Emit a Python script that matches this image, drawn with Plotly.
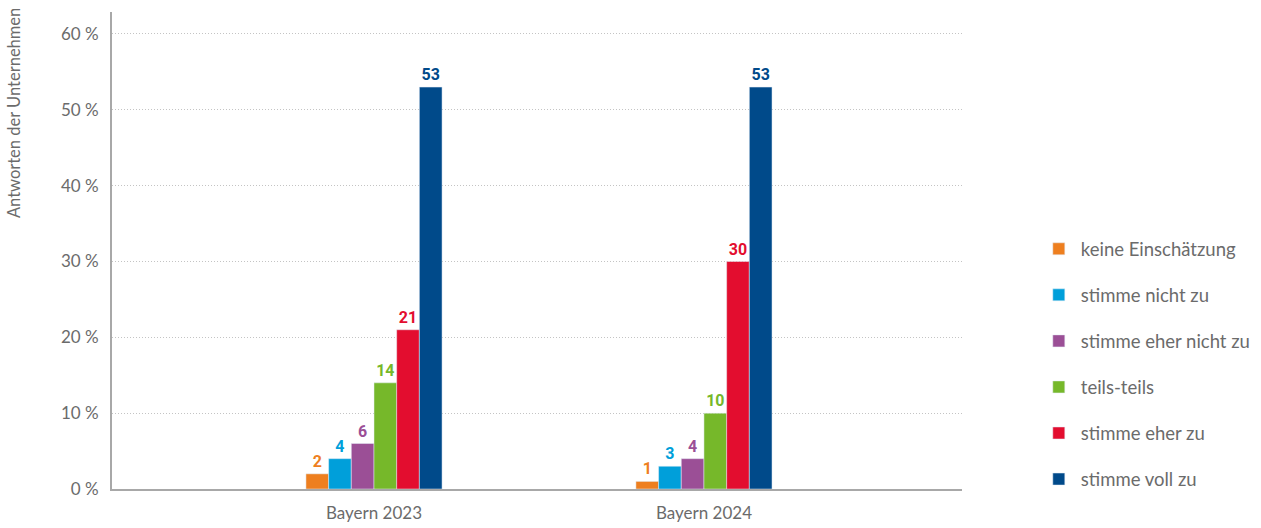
import plotly.graph_objects as go

categories = ["Bayern 2023", "Bayern 2024"]
series_names = ["keine Einschätzung", "stimme nicht zu", "stimme eher nicht zu",
                "teils-teils", "stimme eher zu", "stimme voll zu"]
keine = [2, 1]
nicht = [4, 3]
eher_nicht = [6, 4]
teils = [14, 10]
eher_zu = [21, 30]
voll_zu = [53, 53]
values = [keine, nicht, eher_nicht, teils, eher_zu, voll_zu]
colors = ["#EE7F1F", "#009FDA", "#9B4F96", "#76B82A", "#E30D2F", "#004A8A"]
tick_vals = [0, 10, 20, 30, 40, 50, 60]
tick_text = ["0 %", "10 %", "20 %", "30 %", "40 %", "50 %", "60 %"]

fig = go.Figure()
for name, vals, col in zip(series_names, values, colors):
    fig.add_trace(go.Bar(
        x=categories, y=vals, name=name, marker_color=col,
        text=vals, textposition="outside", cliponaxis=False,
        textfont=dict(color=col, size=16, family="Roboto", weight="bold"),
        legendgroup=name,
    ))

fig.update_layout(
    width=1261, height=528,
    margin=dict(l=112, r=299, t=12, b=39, autoexpand=False),
    paper_bgcolor="white", plot_bgcolor="white",
    barmode="group", bargap=0.5875, bargroupgap=0,
    font=dict(family="Lato", color="#6b6b6b", size=17),
    showlegend=True,
    legend=dict(x=1.088, xanchor="left", y=0.2615, yanchor="middle",
                font=dict(size=18.5, color="#6b6b6b"), tracegroupgap=19,
                itemwidth=34),
    annotations=[dict(text="Antworten der Unternehmen", textangle=-90,
                      xref="paper", yref="paper", x=-0.1155, y=1.012,
                      xanchor="center", yanchor="top", showarrow=False,
                      font=dict(size=16.5, color="#6b6b6b"))],
)
fig.update_yaxes(range=[0, 62.9], tickvals=tick_vals, ticktext=tick_text,
                 showgrid=True, gridcolor="#c4c4c4", griddash="1px,2px", gridwidth=1,
                 showline=True, linecolor="#a8a8a8", linewidth=2,
                 ticks="", ticklabelstandoff=8, zeroline=False, automargin=False)
fig.update_xaxes(range=[-0.794, 1.782], showline=True, linecolor="#a8a8a8",
                 linewidth=2, ticks="", ticklabelstandoff=8, automargin=False)

fig.write_html("out.html", config={"displayModeBar": False},
               post_script="document.body.style.margin='0';")
